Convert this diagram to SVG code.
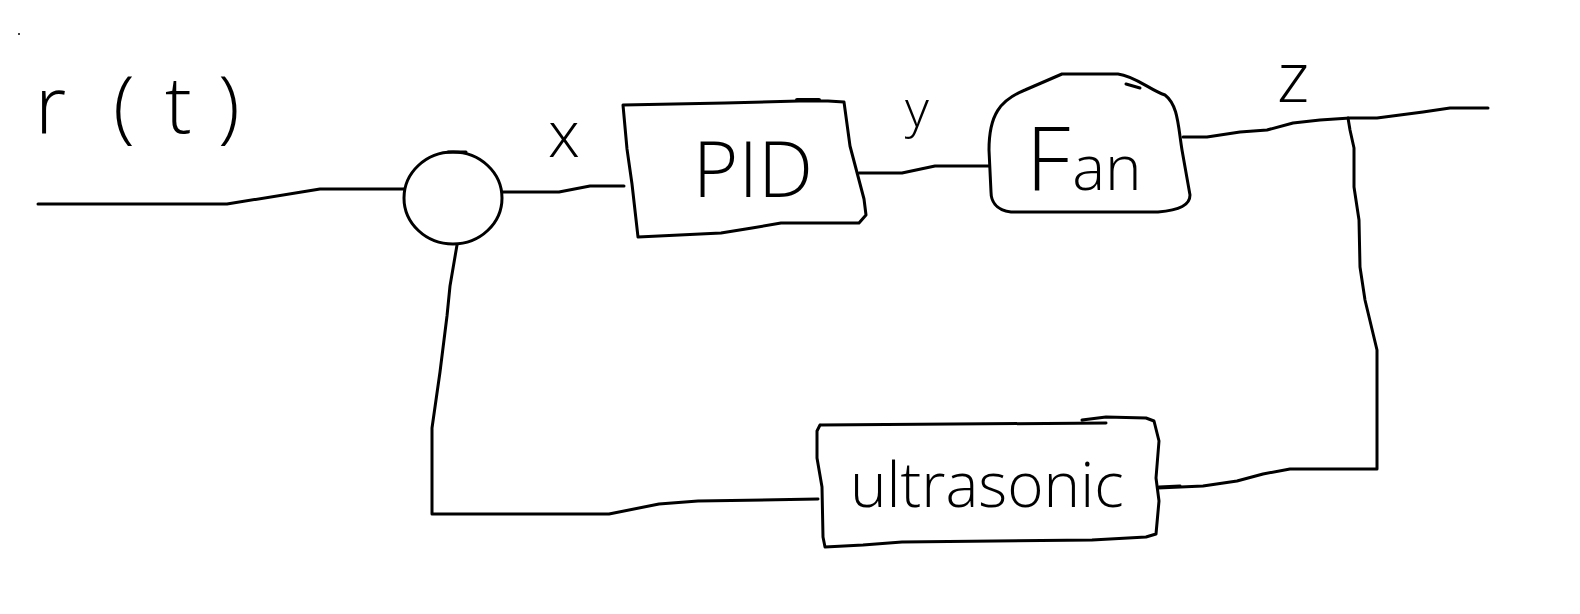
<svg xmlns="http://www.w3.org/2000/svg" width="1580" height="614" viewBox="0 0 1580 614">
<style>
.ln{fill:none;stroke:#000;stroke-width:3;stroke-linejoin:round;stroke-linecap:round}
.tx{font-family:"Open Sans","Liberation Sans",sans-serif;font-weight:300;fill:#000}
</style>
<rect width="1580" height="614" fill="#fff"/>
<circle cx="19" cy="34" r="1" fill="#000"/>
<g id="connectors">
<path class="ln" d="M38,204 L227,204 L320,189 L404,189"/>
<path class="ln" d="M502,192 L559,192 L590,186 L624,186"/>
<path class="ln" d="M859,173 L902,173 L935,166 L989,166"/>
<path class="ln" d="M1183,137 L1207,137 L1240,132 L1267,130 L1293,123 L1320,120 L1350,118 L1377,118 L1400,115 L1423,112 L1450,108 L1488,108"/>
<path class="ln" d="M1348,118 L1350,130 L1354,148 L1354,187 L1359,220 L1360,267 L1365,300 L1377,350 L1377,469 L1290,469 L1263,474 L1237,481 L1203,486 L1158,488"/>
<path class="ln" d="M818,499 L698,501 L659,504 L609,514 L432,514 L432,428 L440,372 L447,316 L450,286 L457,245"/>
</g>
<g id="sum">
<ellipse class="ln" cx="453" cy="198" rx="49" ry="46"/>
<path class="ln" d="M448,152 L466,152"/>
</g>
<g id="pid">
<path class="ln" d="M623,105 L725,103 L799,101 L828,101 L844,102 L850,146 L864,199 L866,215 L859,223 L781,223 L752,228 L721,233 L638,237 L632,184 L627,149 Z"/>
<path class="ln" d="M797,100 L819,100" style="stroke-width:4"/>
<text class="tx" x="753" y="197" font-size="78" text-anchor="middle">PID</text>
</g>
<g id="fan">
<path class="ln" d="M991,192 L989,150 C989,115 1000,100 1025,90 L1062,74 L1118,74 C1135,76 1150,90 1165,95 C1178,105 1178,125 1182,150 L1190,195 C1190,205 1180,210 1158,212 L1011,212 C995,210 991,200 991,192 Z"/>
<path class="ln" d="M1126,84 L1140,88"/>
<text class="tx" x="1026" y="190"><tspan font-size="88">F</tspan><tspan font-size="62" dx="2">an</tspan></text>
</g>
<g id="ultrasonic">
<path class="ln" d="M820,425 L1106,423 M1082,420 L1106,417 L1146,418 L1154,421 L1159,441 L1156,478 L1159,501 L1156,534 L1146,537 L1092,540 L902,542 L863,545 L825,547 L823,537 L822,487 L817,458 L817,431 L820,425"/>
<path class="ln" d="M1159,487 L1180,486"/>
<text class="tx" x="850" y="507" font-size="62">ultrasonic</text>
</g>
<g id="labels">
<text class="tx" font-size="80" x="35 113 165 218" y="133">r(t)</text>
<text class="tx" font-size="64" x="548" y="157">x</text>
<text class="tx" font-size="52" x="905" y="127">y</text>
<text class="tx" font-size="70" x="1277" y="102">z</text>
</g>
</svg>
